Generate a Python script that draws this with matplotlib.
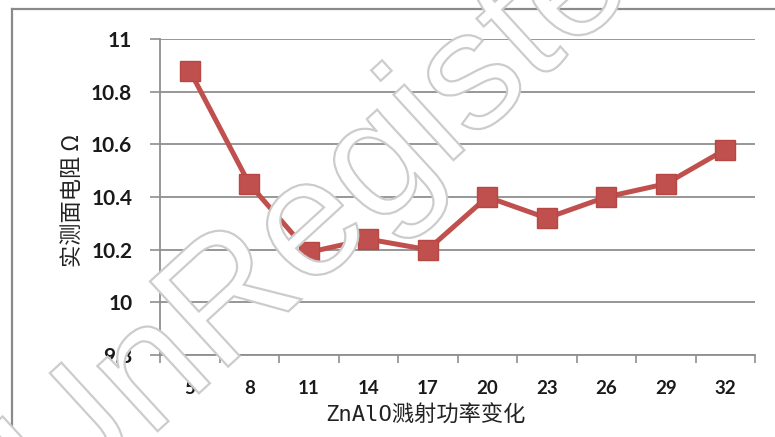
import matplotlib
matplotlib.use("Agg")
import matplotlib.pyplot as plt
from matplotlib.lines import Line2D
from matplotlib.textpath import TextPath
from matplotlib.patches import PathPatch
from matplotlib.font_manager import FontProperties
from matplotlib.transforms import Affine2D

# Sputtering power settings and measured sheet resistance
power = ["5", "8", "11", "14", "17", "20", "23", "26", "29", "32"]
resistance = [10.88, 10.45, 10.19, 10.24, 10.20, 10.40, 10.32, 10.40, 10.45, 10.58]
y_ticks = [9.8, 10.0, 10.2, 10.4, 10.6, 10.8, 11.0]
y_tick_labels = ["9.8", "10", "10.2", "10.4", "10.6", "10.8", "11"]

x_title = "ZnAlO溅射功率变化"
y_title = "实测面电阻 Ω"

W, H, DPI = 775, 437, 100
fig = plt.figure(figsize=(W / DPI, H / DPI), dpi=DPI, facecolor="white")
ax = fig.add_axes([160 / W, 1 - 355 / H, (755 - 160) / W, (355 - 39) / H])

red = "#C0504D"
grid_c = "#8f8f8f"

x = list(range(len(power)))
ax.plot(x, resistance, color=red, lw=3.6, marker="s", markersize=15,
        markerfacecolor=red, markeredgecolor="#b84643", markeredgewidth=1,
        zorder=3, clip_on=False)

ax.set_xlim(-0.5, len(power) - 0.5)
ax.set_ylim(9.8, 11.0)

# category ticks sit between points, labels at the points
ax.set_xticks([i - 0.5 for i in range(len(power) + 1)])
ax.set_xticklabels([])
ax.set_xticks(x, minor=True)
ax.set_xticklabels(power, minor=True)
ax.tick_params(axis="x", which="major", direction="out", length=6,
               width=1.2, color=grid_c)
ax.tick_params(axis="x", which="minor", length=0, pad=18)

ax.set_yticks(y_ticks)
ax.set_yticklabels(y_tick_labels)
ax.tick_params(axis="y", direction="out", length=7, width=1.2,
               color=grid_c, pad=13)

for lab in ax.get_yticklabels():
    lab.set_fontfamily("Lato")
    lab.set_fontweight("bold")
    lab.set_fontsize(15)
    lab.set_color("#1a1a1a")
for lab in ax.get_xticklabels(minor=True):
    lab.set_fontfamily("Lato")
    lab.set_fontweight("bold")
    lab.set_fontsize(13.5)
    lab.set_color("#1a1a1a")

ax.yaxis.grid(True, color=grid_c, lw=1.3)
ax.set_axisbelow(True)
for side in ("top", "right"):
    ax.spines[side].set_visible(False)
for side in ("left", "bottom"):
    ax.spines[side].set_color(grid_c)
    ax.spines[side].set_linewidth(1.3)

fig.text(72 / W, 1 - 200 / H, y_title, rotation=90, ha="center", va="center",
         fontsize=16, family=["Noto Sans CJK SC", "DejaVu Sans"],
         color="#222222")
fig.text(425 / W, 1 - 415 / H, x_title, ha="center", va="center",
         fontsize=16, family=["DejaVu Sans Mono", "Noto Sans CJK SC"],
         color="#222222")

# chart-area border (left and top edges)
fig.add_artist(Line2D([12 / W, 12 / W], [0, 1 - 9 / H], transform=fig.transFigure,
                      color="#8a8a8a", lw=1.6))
fig.add_artist(Line2D([12 / W, 1], [1 - 9 / H, 1 - 9 / H], transform=fig.transFigure,
                      color="#8a8a8a", lw=1.6))

# hollow "UnRegistered" stamp running diagonally across the chart
fp = FontProperties(family="Liberation Sans")
stamp = "UnRegistered"
tp = TextPath((0, 0), stamp, size=100, prop=fp)
tr = Affine2D().scale(1.68).rotate_deg(42.5).translate(59.6, H - 521.0)
fig.add_artist(PathPatch(tp, transform=tr, facecolor="white",
                         edgecolor="#cccccc", lw=1.6, zorder=10))

fig.savefig("out.png", dpi=DPI, facecolor="white")
